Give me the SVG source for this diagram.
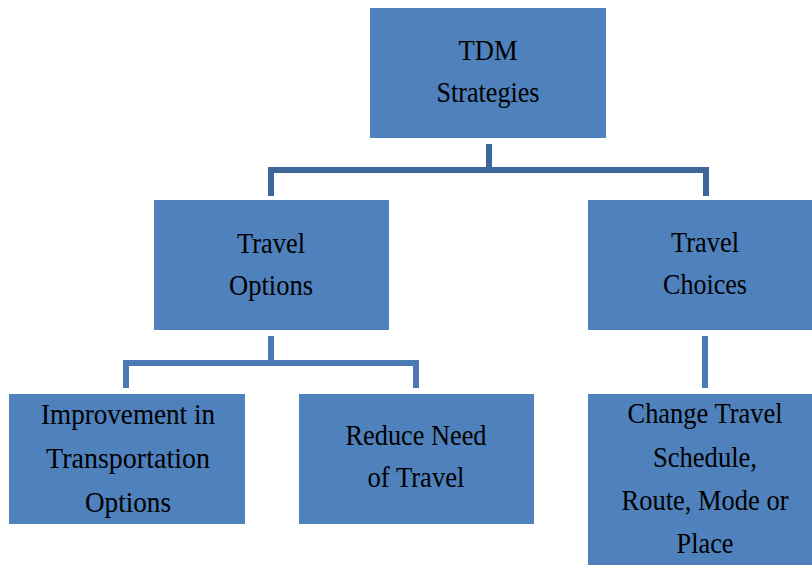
<svg xmlns="http://www.w3.org/2000/svg" width="812" height="565" viewBox="0 0 812 565">
<style>
.box{fill:#4F81BD;}
.t{font-family:"Liberation Serif","Times New Roman",serif;font-size:29px;fill:#000;text-anchor:middle;}
.c1{fill:none;stroke:#3E6799;stroke-width:6;stroke-linejoin:miter;stroke-linecap:butt;}
.c2{fill:none;stroke:#4A79B3;stroke-width:6;stroke-linejoin:miter;stroke-linecap:butt;}
</style>
<rect width="812" height="565" fill="#FFFFFF"/>
<g id="connectors">
<path class="c1" d="M489,144 V170"/>
<path class="c1" d="M271,196 V170 H706 V196"/>
<path class="c2" d="M271,336 V363"/>
<path class="c2" d="M126,388 V363 H416 V388"/>
<path class="c2" d="M705,336 V388"/>
</g>
<g id="tdm">
<rect class="box" x="370" y="8" width="236" height="130"/>
<text class="t" x="488" y="60" textLength="59" lengthAdjust="spacingAndGlyphs">TDM</text>
<text class="t" x="488" y="102" textLength="103" lengthAdjust="spacingAndGlyphs">Strategies</text>
</g>
<g id="travel-options">
<rect class="box" x="154" y="200" width="235" height="130"/>
<text class="t" x="271" y="253" textLength="68" lengthAdjust="spacingAndGlyphs">Travel</text>
<text class="t" x="271" y="295" textLength="84" lengthAdjust="spacingAndGlyphs">Options</text>
</g>
<g id="travel-choices">
<rect class="box" x="588" y="200" width="235" height="130"/>
<text class="t" x="705" y="252" textLength="68" lengthAdjust="spacingAndGlyphs">Travel</text>
<text class="t" x="705" y="294" textLength="84" lengthAdjust="spacingAndGlyphs">Choices</text>
</g>
<g id="improvement">
<rect class="box" x="9" y="394" width="236" height="130"/>
<text class="t" x="128" y="424" textLength="174" lengthAdjust="spacingAndGlyphs">Improvement in</text>
<text class="t" x="128" y="468" textLength="164" lengthAdjust="spacingAndGlyphs">Transportation</text>
<text class="t" x="128" y="512" textLength="86" lengthAdjust="spacingAndGlyphs">Options</text>
</g>
<g id="reduce-need">
<rect class="box" x="299" y="394" width="235" height="130"/>
<text class="t" x="416" y="445" textLength="141" lengthAdjust="spacingAndGlyphs">Reduce Need</text>
<text class="t" x="416" y="487" textLength="97" lengthAdjust="spacingAndGlyphs">of Travel</text>
</g>
<g id="change-travel">
<rect class="box" x="588" y="394" width="235" height="180"/>
<text class="t" x="705" y="423" textLength="155" lengthAdjust="spacingAndGlyphs">Change Travel</text>
<text class="t" x="705" y="467" textLength="104" lengthAdjust="spacingAndGlyphs">Schedule,</text>
<text class="t" x="705" y="510" textLength="167" lengthAdjust="spacingAndGlyphs">Route, Mode or</text>
<text class="t" x="705" y="553" textLength="57" lengthAdjust="spacingAndGlyphs">Place</text>
</g>
</svg>
